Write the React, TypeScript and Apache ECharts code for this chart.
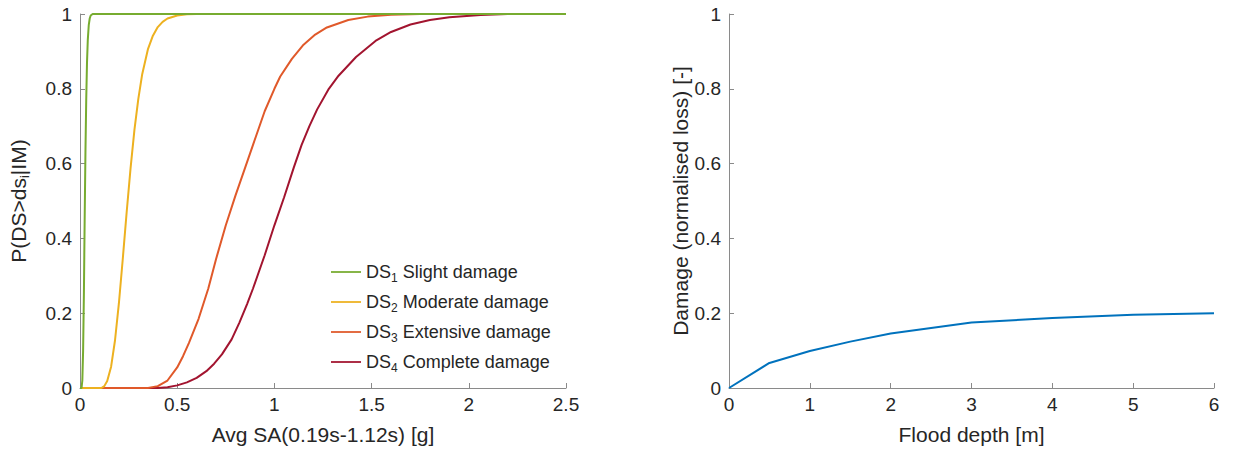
import React, { useEffect, useRef } from "react";
import * as echarts from "echarts";

// ---- Data ----
const seriesNames = ["DS1 Slight damage", "DS2 Moderate damage", "DS3 Extensive damage", "DS4 Complete damage"];
const seriesLabels = ["Slight damage", "Moderate damage", "Extensive damage", "Complete damage"];

const ds1: number[][] = [
  [0, 0], [0.008, 0], [0.012, 0.02], [0.016, 0.1], [0.02, 0.25], [0.024, 0.45], [0.028, 0.63],
  [0.032, 0.77], [0.036, 0.87], [0.04, 0.93], [0.045, 0.97], [0.05, 0.988], [0.055, 0.996],
  [0.065, 1], [2.5, 1],
];
const ds2: number[][] = [
  [0, 0], [0.11, 0], [0.125, 0.005], [0.14, 0.019], [0.16, 0.057], [0.18, 0.127], [0.2, 0.226],
  [0.22, 0.345], [0.24, 0.47], [0.26, 0.587], [0.28, 0.69], [0.3, 0.773], [0.32, 0.839],
  [0.35, 0.907], [0.375, 0.942], [0.4, 0.965], [0.425, 0.979], [0.45, 0.988], [0.5, 0.996],
  [0.55, 0.999], [0.6, 1], [2.5, 1],
];
const ds3: number[][] = [
  [0, 0], [0.35, 0], [0.4, 0.005], [0.45, 0.02], [0.5, 0.055], [0.53, 0.085], [0.56, 0.12],
  [0.61, 0.185], [0.66, 0.266], [0.7, 0.345], [0.75, 0.435], [0.8, 0.515], [0.85, 0.59],
  [0.89, 0.65], [0.95, 0.74], [1.0, 0.8], [1.03, 0.833], [1.09, 0.88], [1.15, 0.918],
  [1.21, 0.945], [1.27, 0.964], [1.38, 0.984], [1.48, 0.993], [1.6, 0.998], [1.75, 1], [2.5, 1],
];
const ds4: number[][] = [
  [0, 0], [0.4, 0], [0.45, 0.002], [0.5, 0.007], [0.55, 0.015], [0.6, 0.027], [0.65, 0.045],
  [0.69, 0.065], [0.73, 0.09], [0.78, 0.13], [0.82, 0.175], [0.86, 0.225], [0.89, 0.266],
  [0.95, 0.355], [1.0, 0.435], [1.05, 0.51], [1.1, 0.59], [1.14, 0.65], [1.18, 0.7],
  [1.22, 0.745], [1.28, 0.8], [1.33, 0.835], [1.42, 0.885], [1.52, 0.928], [1.6, 0.952],
  [1.7, 0.972], [1.8, 0.984], [1.9, 0.991], [2.06, 0.997], [2.2, 1], [2.5, 1],
];

const floodDepth = [0, 0.5, 1, 1.5, 2, 3, 4, 5, 6];
const floodDamage = [0, 0.067, 0.099, 0.124, 0.146, 0.175, 0.187, 0.196, 0.2];

const colors = ["#77AC30", "#EDB120", "#E0592A", "#A2142F"];
const blue = "#0072BD";

const FONT = "'Liberation Sans', Arial, Helvetica, sans-serif";
const axisGray = "#8a8a8a";
const textColor = "#262626";
const TICK_FS = 19;
const NAME_FS = 21;

export default function App() {
  const ref = useRef<HTMLDivElement>(null);
  useEffect(() => {
    if (!ref.current) return;
    const chart = echarts.init(ref.current, undefined, { renderer: "svg" });

    const axisCommon = {
      axisLine: { show: true, lineStyle: { color: axisGray, width: 1 } },
      axisTick: { show: true, inside: true, length: 5, lineStyle: { color: axisGray } },
      splitLine: { show: false },
      axisLabel: { color: textColor, fontSize: TICK_FS, fontFamily: FONT },
      nameTextStyle: { color: textColor, fontSize: NAME_FS, fontFamily: FONT },
    };

    const leftData = [ds1, ds2, ds3, ds4];

    chart.setOption({
      animation: false,
      textStyle: { fontFamily: FONT },
      grid: [
        { left: 80, right: 667, top: 14, bottom: 60 },
        { left: 729, right: 19, top: 14, bottom: 60 },
      ],
      xAxis: [
        {
          gridIndex: 0, type: "value", min: 0, max: 2.5, interval: 0.5,
          name: "Avg SA(0.19s-1.12s) [g]", nameLocation: "middle", nameGap: 36,
          ...axisCommon,
          axisLabel: { ...axisCommon.axisLabel, margin: 7 },
        },
        {
          gridIndex: 1, type: "value", min: 0, max: 6, interval: 1,
          name: "Flood depth [m]", nameLocation: "middle", nameGap: 36,
          ...axisCommon,
          axisLabel: { ...axisCommon.axisLabel, margin: 7 },
        },
      ],
      yAxis: [
        {
          gridIndex: 0, type: "value", min: 0, max: 1, interval: 0.2,
          name: "P(DS>ds{s|i}|IM)", nameLocation: "middle", nameGap: 49,
          ...axisCommon,
          nameTextStyle: {
            ...axisCommon.nameTextStyle,
            rich: { s: { fontSize: 13, fontFamily: FONT, color: textColor, padding: [12, 0, 0, 0] } },
          },
          axisLabel: { ...axisCommon.axisLabel, margin: 8 },
        },
        {
          gridIndex: 1, type: "value", min: 0, max: 1, interval: 0.2,
          name: "Damage (normalised loss) [-]", nameLocation: "middle", nameGap: 38,
          ...axisCommon,
          axisLabel: { ...axisCommon.axisLabel, margin: 8 },
        },
      ],
      legend: {
        orient: "vertical",
        left: 326,
        top: 258,
        itemWidth: 30,
        itemHeight: 14,
        itemGap: 9,
        data: seriesNames,
        icon: "path://M0,6 L34,6 L34,8 L0,8 Z",
        textStyle: {
          color: textColor, fontSize: 18, fontFamily: FONT,
          rich: {
            a: { fontSize: 18, fontFamily: FONT, color: textColor },
            s: { fontSize: 12, fontFamily: FONT, color: textColor, padding: [12, 0, 0, 0] },
          },
        },
        formatter: (name: string) => {
          const i = seriesNames.indexOf(name);
          return `{a|DS}{s|${i + 1}}{a| ${seriesLabels[i]}}`;
        },
      },
      series: [
        ...leftData.map((d, i) => ({
          name: seriesNames[i],
          type: "line",
          xAxisIndex: 0,
          yAxisIndex: 0,
          data: d,
          symbol: "none",
          smooth: false,
          lineStyle: { color: colors[i], width: 2 },
          itemStyle: { color: colors[i] },
          z: 2 + (3 - i),
        })),
        {
          name: "flood",
          type: "line",
          xAxisIndex: 1,
          yAxisIndex: 1,
          data: floodDepth.map((x, i) => [x, floodDamage[i]]),
          symbol: "none",
          lineStyle: { color: blue, width: 2 },
          itemStyle: { color: blue },
        },
      ],
    });
    return () => chart.dispose();
  }, []);
  return <div ref={ref} style={{ width: 1233, height: 450, position: "absolute", left: 0, top: 0 }} />;
}
